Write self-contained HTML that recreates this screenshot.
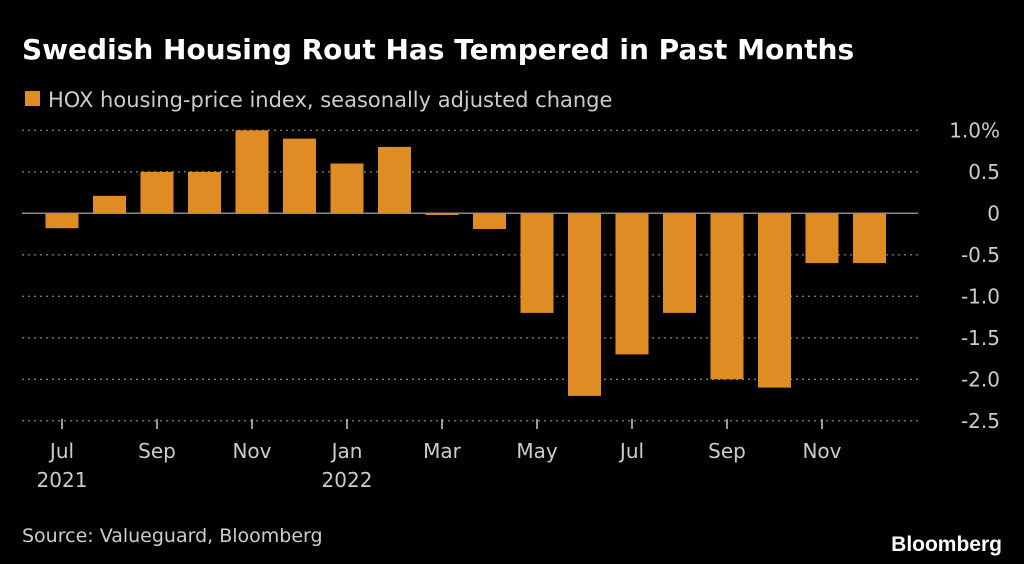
<!DOCTYPE html>
<html><head><meta charset="utf-8"><style>
body{margin:0;background:#000;width:1024px;height:564px;overflow:hidden;font-family:"DejaVu Sans","Liberation Sans",sans-serif;color:#ddd}
</style></head><body>
<svg width="1024" height="564" style="position:absolute;left:0;top:0">
<text x="22" y="59" fill="#fff" font-size="28" font-weight="bold">Swedish Housing Rout Has Tempered in Past Months</text>
<rect x="25" y="91" width="15" height="15" fill="#e08c24"/>
<text x="48" y="107" fill="#ccc" font-size="21">HOX housing-price index, seasonally adjusted change</text>
<g id="grid"></g><g id="bars"></g><g id="xaxis"></g>
<text x="22" y="542" fill="#ccc" font-size="19">Source: Valueguard, Bloomberg</text>
<text x="1002" y="551" fill="#fff" font-size="21" font-weight="bold" text-anchor="end" font-family="Liberation Sans, sans-serif">Bloomberg</text>
</svg>
<script>
const months=["Jul","Aug","Sep","Oct","Nov","Dec","Jan","Feb","Mar","Apr","May","Jun","Jul","Aug","Sep","Oct","Nov","Dec"];
const values=[-0.18,0.21,0.5,0.5,1.0,0.9,0.6,0.8,-0.02,-0.19,-1.2,-2.2,-1.7,-1.2,-2.0,-2.1,-0.6,-0.6];
const yTicks=[1.0,0.5,0,-0.5,-1.0,-1.5,-2.0,-2.5];
const yTickLabels=["1.0%","0.5","0","-0.5","-1.0","-1.5","-2.0","-2.5"];
const yearLabels={0:"2021",6:"2022"};
const NS="http://www.w3.org/2000/svg";
const y=v=>213.3-v*83;
const x=i=>62+i*47.5;
function mk(t,a,p){const e=document.createElementNS(NS,t);for(const k in a)e.setAttribute(k,a[k]);p.appendChild(e);return e;}
const g=document.getElementById('grid'),b=document.getElementById('bars'),xa=document.getElementById('xaxis');
yTicks.forEach((v,i)=>{
 const l=mk('line',{x1:22,x2:918,y1:y(v),y2:y(v),stroke:v===0?'#888':'#777','stroke-width':v===0?1.5:1.3,'stroke-dasharray':v===0?'none':'2 4'},g);
 
 
 const t=mk('text',{x:1000,y:y(v)+7,fill:'#ccc','font-size':20,'text-anchor':'end'},g);
 t.textContent=yTickLabels[i];
 
 
});
values.forEach((v,i)=>{
 const r=mk('rect',{x:x(i)-16.5,width:33,y:Math.min(y(v),y(0)),height:Math.max(Math.abs(y(v)-y(0)),1),fill:'#e08c24'},b);
 
 
});
months.forEach((m,i)=>{
 if(i%2)return;
 const tk=mk('line',{x1:x(i),x2:x(i),y1:419,y2:429,stroke:'#ccc','stroke-width':1.5},xa);
 
 
 const t=mk('text',{x:x(i),y:458,fill:'#ccc','font-size':20,'text-anchor':'middle'},xa);
 t.textContent=m;
 
 
 if(yearLabels[i]){const yt=mk('text',{x:x(i),y:487,fill:'#ccc','font-size':20,'text-anchor':'middle'},xa);
 yt.textContent=yearLabels[i];
 
 }
});
</script>
</body></html>
